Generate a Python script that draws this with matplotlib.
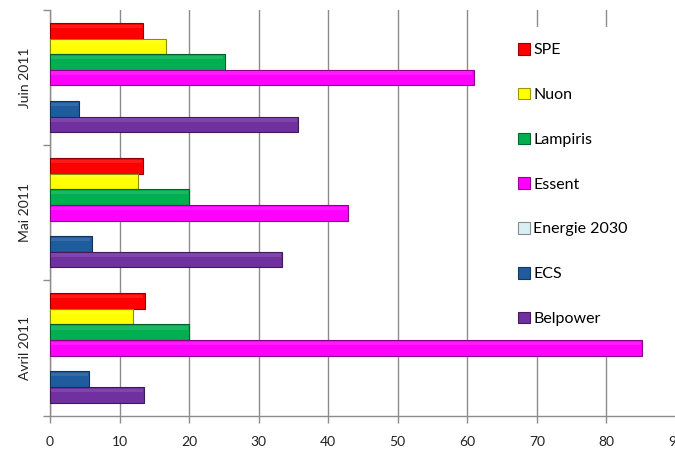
import matplotlib
matplotlib.use("Agg")
import matplotlib.pyplot as plt
import matplotlib.colors as mcolors
from matplotlib.patches import Patch
import numpy as np

plt.rcParams['font.family'] = ['Lato', 'DejaVu Sans']

months = ["Avril 2011", "Mai 2011", "Juin 2011"]
suppliers = ["SPE", "Nuon", "Lampiris", "Essent", "Energie 2030", "ECS", "Belpower"]

spe = [13.6, 13.4, 13.4]
nuon = [12.0, 12.7, 16.7]
lampiris = [20.0, 20.0, 25.1]
essent = [85.1, 42.9, 60.9]
energie_2030 = [0.0, 0.0, 0.0]
ecs = [5.6, 6.0, 4.2]
belpower = [13.5, 33.4, 35.7]

series = [spe, nuon, lampiris, essent, energie_2030, ecs, belpower]
colors = ["#FF0000", "#FFFF00", "#00B050", "#FF00FF", "#DAEEF3", "#1F5C9E", "#7030A0"]

x_ticks = [0, 10, 20, 30, 40, 50, 60, 70, 80, 90]

W, H = 675, 450
fig = plt.figure(figsize=(W / 100, H / 100), dpi=100)
ax = fig.add_axes([50 / W, (H - 415.5) / H, (676 - 50) / W, (415.5 - 10) / H])

grid_c = "#8C8C8C"
bar_h = 0.1155
y_idx = np.arange(len(months))


def darker(c, f=0.7):
    r, g, b = mcolors.to_rgb(c)
    return (r * f, g * f, b * f)


def lighter(c, f=0.35):
    r, g, b = mcolors.to_rgb(c)
    return (r + (1 - r) * f, g + (1 - g) * f, b + (1 - b) * f)


for j, (vals, col) in enumerate(zip(series, colors)):
    ys = y_idx + (3 - j) * bar_h
    drawn = [v if v > 0 else np.nan for v in vals]
    ax.barh(ys, drawn, height=bar_h, color=col, edgecolor=darker(col, 0.55),
            linewidth=0.8, zorder=3)
    # faint highlight near the top edge for the bevelled look
    ax.barh(ys + bar_h * 0.28, [v - 0.3 if v == v else v for v in drawn],
            height=bar_h * 0.22, left=0.1, color=lighter(col, 0.1),
            linewidth=0, zorder=4)

ax.set_xlim(0, 90)
ax.set_ylim(-0.5, 2.5)
ax.set_xticks(x_ticks)
ax.set_xticklabels([str(t) for t in x_ticks], fontsize=10, color="#222222")
ax.set_yticks([-0.5, 0.5, 1.5, 2.5])
ax.set_yticklabels([])
ax.set_yticks(y_idx, minor=True)
ax.set_yticklabels(months, minor=True, rotation=90, va="center",
                   fontsize=10, color="#222222")
ax.tick_params(axis="y", which="major", length=5, color=grid_c, width=1)
ax.tick_params(axis="y", which="minor", length=0, pad=14)
ax.tick_params(axis="x", length=5, color=grid_c, width=1, pad=10)

ax.grid(axis="x", color=grid_c, linewidth=1, zorder=0)
for s in ["top", "right"]:
    ax.spines[s].set_visible(False)
for s in ["left", "bottom"]:
    ax.spines[s].set_color(grid_c)
    ax.spines[s].set_linewidth(1)

handles = [Patch(facecolor=c, edgecolor=darker(c, 0.6), linewidth=0.8) for c in colors]
leg = ax.legend(handles, suppliers, loc="upper left",
                bbox_to_anchor=(502 / W, 1 - 27 / H), bbox_transform=fig.transFigure,
                frameon=True, fontsize=11.5, labelspacing=1.9, handlelength=0.75,
                handleheight=0.75, handletextpad=0.2, borderpad=1.0,
                borderaxespad=0, fancybox=False)
leg.get_frame().set_edgecolor("none")
leg.get_frame().set_facecolor("white")
leg.get_frame().set_alpha(1)
leg.set_zorder(2.5)

fig.savefig("out.png", dpi=100)
